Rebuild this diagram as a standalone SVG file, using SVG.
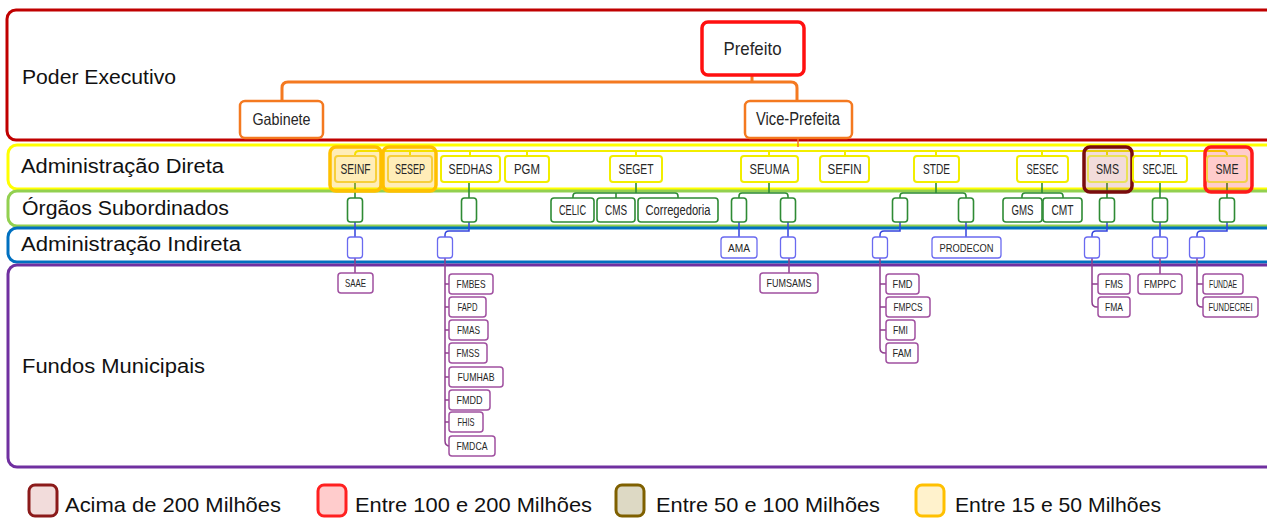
<svg xmlns="http://www.w3.org/2000/svg" width="1267" height="519" viewBox="0 0 1267 519">
<style>
text{font-family:"Liberation Sans",Arial,sans-serif}
.lbl{font-size:20px;fill:#111}
.leg{font-size:21px;fill:#111}
.t{text-anchor:middle;fill:#262626}
.ty{font-size:15px}
.tg{font-size:14px}
.tb{font-size:11px}
.tp{font-size:11.5px}
.band{fill:#fff;stroke-width:3}
.yn{fill:#fff;stroke:#F2EE00;stroke-width:2}
.gn{fill:#fff;stroke:#2E8B34;stroke-width:1.6}
.bn{fill:#fff;stroke:#6A6AF0;stroke-width:1.3}
.pn{fill:#fff;stroke:#A050A0;stroke-width:1.5}
.top{fill:#fff;stroke:#F47920;stroke-width:2.5}
.c{fill:none}
.co{stroke:#F47920;stroke-width:3}
.cy{stroke:#F2EE00;stroke-width:2}
.cg{stroke:#2E8B34;stroke-width:1.6}
.cb{stroke:#3344DD;stroke-width:1.5}
.cp{stroke:#8E3E8E;stroke-width:1.5}
</style>
<rect width="1267" height="519" fill="#fff"/>
<g id="bands">
<rect class="band" x="7" y="10" width="1280" height="130" rx="9" stroke="#C00000"/>
<rect class="band" x="8" y="145" width="1280" height="44" rx="9" stroke="#FFFF00"/>
<rect class="band" x="8" y="191" width="1280" height="35" rx="9" stroke="#92D050"/>
<rect class="band" x="8" y="228" width="1280" height="34" rx="9" stroke="#0070C0"/>
<rect class="band" x="8" y="265" width="1280" height="202" rx="9" stroke="#7030A0"/>
<text class="lbl" x="22" y="84" font-size="22" textLength="154" lengthAdjust="spacingAndGlyphs">Poder Executivo</text>
<text class="lbl" x="21" y="173" textLength="203" lengthAdjust="spacingAndGlyphs">Administração Direta</text>
<text class="lbl" x="22" y="215" textLength="207" lengthAdjust="spacingAndGlyphs">Órgãos Subordinados</text>
<text class="lbl" x="21" y="251" textLength="220" lengthAdjust="spacingAndGlyphs">Administração Indireta</text>
<text class="lbl" x="22" y="373" textLength="183" lengthAdjust="spacingAndGlyphs">Fundos Municipais</text>
</g>
<g id="connectors" class="c">
<path class="co" d="M752,75 V82 M282,101 V88 Q282,82 288,82 H791 Q797,82 797,88 V101"/>
<path d="M798,138 V147" stroke="#F47920" stroke-width="1.5"/>
<path class="cy" d="M355,156 V155 Q355,151 359,151 H1223 Q1227,151 1227,155 V156 M410,151 V156 M470,151 V156 M527,151 V156 M636,151 V156 M769,151 V156 M845,151 V156 M936,151 V156 M1042,151 V156 M1107,151 V156 M1160,151 V156"/>
<path class="cg" d="M355,182 V198 M469,182 V198 M636,182 V193 M573,198 V196 Q573,193 576,193 H675 Q678,193 678,196 V198 M616,193 V198 M769,182 V193 M739,198 V196 Q739,193 742,193 H785 Q788,193 788,196 V198 M936,182 V193 M900,198 V196 Q900,193 903,193 H963 Q966,193 966,196 V198 M1042,182 V193 M1022,198 V196 Q1022,193 1025,193 H1060 Q1063,193 1063,196 V198 M1107,182 V198 M1160,182 V198 M1227,182 V198"/>
<path class="cb" d="M355,222 V237 M469,222 V231 H449 Q445,231 445,235 V237 M739,222 V237 M788,222 V237 M900,222 V231 H884 Q880,231 880,235 V237 M966,222 V237 M1107,222 V231 H1096 Q1092,231 1092,235 V237 M1160,222 V237 M1227,222 V231 H1201 Q1197,231 1197,235 V237"/>
<path class="cp" d="M355,258 V273 M445,258 V441 Q445,446 450,446 M445,284 H449 M445,307 H449 M445,330 H449 M445,353 H449 M445,377 H449 M445,400 H449 M445,422 H449 M789,258 V273 M880,258 V348 Q880,353 885,353 H886 M880,284 H886 M880,307 H886 M880,330 H886 M1092,258 V302 Q1092,307 1097,307 H1098 M1092,284 H1098 M1160,258 V274 M1197,258 V302 Q1197,307 1202,307 H1203 M1197,284 H1203"/>
</g>
<g id="prefeito"><rect x="702" y="22" width="102" height="53" rx="6" fill="#fff" stroke="#FF1010" stroke-width="3.5"/><text class="t" x="752.5" y="55" font-size="18.5" textLength="58" lengthAdjust="spacingAndGlyphs">Prefeito</text></g>
<g id="gabinete"><rect class="top" x="240" y="101" width="83" height="37" rx="5"/><text class="t" x="281.5" y="125" font-size="16.5" textLength="58" lengthAdjust="spacingAndGlyphs">Gabinete</text></g>
<g id="vice-prefeita"><rect class="top" x="745" y="101" width="107" height="37" rx="5"/><text class="t" x="798" y="125" font-size="17.5" textLength="84" lengthAdjust="spacingAndGlyphs">Vice-Prefeita</text></g>
<g id="seinf"><rect x="330" y="147" width="51" height="44" rx="6" fill="#FFC000" fill-opacity="0.28" stroke="#FFC000" stroke-width="3.5"/><rect x="335" y="156" width="41" height="26" rx="3" fill="none" stroke="#F7CF3B" stroke-width="2"/><text class="t ty" x="355.5" y="174" textLength="30" lengthAdjust="spacingAndGlyphs">SEINF</text></g>
<g id="sesep"><rect x="383" y="147" width="53" height="44" rx="6" fill="#FFC000" fill-opacity="0.28" stroke="#FFC000" stroke-width="3.5"/><rect x="388" y="156" width="44" height="26" rx="3" fill="none" stroke="#F7CF3B" stroke-width="2"/><text class="t ty" x="410" y="174" textLength="30" lengthAdjust="spacingAndGlyphs">SESEP</text></g>
<g id="sedhas"><rect class="yn" x="441" y="156" width="59" height="26" rx="3"/><text class="t ty" x="470.5" y="174" textLength="44" lengthAdjust="spacingAndGlyphs">SEDHAS</text></g>
<g id="pgm"><rect class="yn" x="505" y="156" width="44" height="26" rx="3"/><text class="t ty" x="527" y="174" textLength="26" lengthAdjust="spacingAndGlyphs">PGM</text></g>
<g id="seget"><rect class="yn" x="610" y="156" width="52" height="26" rx="3"/><text class="t ty" x="636" y="174" textLength="35" lengthAdjust="spacingAndGlyphs">SEGET</text></g>
<g id="seuma"><rect class="yn" x="741" y="156" width="57" height="26" rx="3"/><text class="t ty" x="769.5" y="174" textLength="40" lengthAdjust="spacingAndGlyphs">SEUMA</text></g>
<g id="sefin"><rect class="yn" x="820" y="156" width="49" height="26" rx="3"/><text class="t ty" x="844.5" y="174" textLength="34" lengthAdjust="spacingAndGlyphs">SEFIN</text></g>
<g id="stde"><rect class="yn" x="914" y="156" width="45" height="26" rx="3"/><text class="t ty" x="936.5" y="174" textLength="27" lengthAdjust="spacingAndGlyphs">STDE</text></g>
<g id="sesec"><rect class="yn" x="1017" y="156" width="51" height="26" rx="3"/><text class="t ty" x="1042.5" y="174" textLength="32" lengthAdjust="spacingAndGlyphs">SESEC</text></g>
<g id="sms"><rect x="1084" y="147" width="48" height="45" rx="6" fill="#C0504D" fill-opacity="0.2" stroke="#7A0C0C" stroke-width="3.5"/><rect x="1088" y="156" width="39" height="26" rx="3" fill="none" stroke="#EAE15A" stroke-width="2"/><text class="t ty" x="1107.5" y="174" textLength="23" lengthAdjust="spacingAndGlyphs">SMS</text></g>
<g id="secjel"><rect class="yn" x="1133" y="156" width="54" height="26" rx="3"/><text class="t ty" x="1160" y="174" textLength="35" lengthAdjust="spacingAndGlyphs">SECJEL</text></g>
<g id="sme"><rect x="1205" y="147" width="47" height="45" rx="6" fill="#FF0000" fill-opacity="0.2" stroke="#FF1A1A" stroke-width="3.5"/><rect x="1207" y="156" width="40" height="26" rx="3" fill="none" stroke="#F2D04A" stroke-width="2"/><text class="t ty" x="1227" y="174" textLength="23" lengthAdjust="spacingAndGlyphs">SME</text></g>
<g id="os-seinf"><rect class="gn" x="347.5" y="198" width="15" height="24" rx="3"/></g>
<g id="os-sedhas"><rect class="gn" x="461.5" y="198" width="15" height="24" rx="3"/></g>
<g id="celic"><rect class="gn" x="551" y="198" width="43" height="24" rx="3"/><text class="t tg" x="572.5" y="215" textLength="27" lengthAdjust="spacingAndGlyphs">CELIC</text></g>
<g id="cms"><rect class="gn" x="597" y="198" width="38" height="24" rx="3"/><text class="t tg" x="616" y="215" textLength="22" lengthAdjust="spacingAndGlyphs">CMS</text></g>
<g id="corregedoria"><rect class="gn" x="638" y="198" width="80" height="24" rx="3"/><text class="t tg" x="678" y="215" textLength="65" lengthAdjust="spacingAndGlyphs">Corregedoria</text></g>
<g id="os-seuma-1"><rect class="gn" x="731.5" y="198" width="15" height="24" rx="3"/></g>
<g id="os-seuma-2"><rect class="gn" x="780.5" y="198" width="15" height="24" rx="3"/></g>
<g id="os-stde-1"><rect class="gn" x="892.5" y="198" width="15" height="24" rx="3"/></g>
<g id="os-stde-2"><rect class="gn" x="958.5" y="198" width="15" height="24" rx="3"/></g>
<g id="gms"><rect class="gn" x="1003" y="198" width="39" height="24" rx="3"/><text class="t tg" x="1022.5" y="215" textLength="22" lengthAdjust="spacingAndGlyphs">GMS</text></g>
<g id="cmt"><rect class="gn" x="1043" y="198" width="39" height="24" rx="3"/><text class="t tg" x="1062.5" y="215" textLength="22" lengthAdjust="spacingAndGlyphs">CMT</text></g>
<g id="os-sms"><rect class="gn" x="1099.5" y="198" width="15" height="24" rx="3"/></g>
<g id="os-secjel"><rect class="gn" x="1152.5" y="198" width="15" height="24" rx="3"/></g>
<g id="os-sme"><rect class="gn" x="1219.5" y="198" width="15" height="24" rx="3"/></g>
<g id="ai-seinf"><rect class="bn" x="347.5" y="237" width="15" height="21" rx="3"/></g>
<g id="ai-sedhas"><rect class="bn" x="437.5" y="237" width="15" height="21" rx="3"/></g>
<g id="ama"><rect class="bn" x="721" y="237" width="36" height="21" rx="3"/><text class="t tb" x="739" y="252" textLength="22" lengthAdjust="spacingAndGlyphs">AMA</text></g>
<g id="ai-seuma"><rect class="bn" x="780.5" y="237" width="15" height="21" rx="3"/></g>
<g id="ai-stde"><rect class="bn" x="872.5" y="237" width="15" height="21" rx="3"/></g>
<g id="prodecon"><rect class="bn" x="932" y="237" width="69" height="21" rx="3"/><text class="t tb" x="966.5" y="252" textLength="54" lengthAdjust="spacingAndGlyphs">PRODECON</text></g>
<g id="ai-sms"><rect class="bn" x="1084.5" y="237" width="15" height="21" rx="3"/></g>
<g id="ai-secjel"><rect class="bn" x="1152.5" y="237" width="15" height="21" rx="3"/></g>
<g id="ai-sme"><rect class="bn" x="1189.5" y="237" width="15" height="21" rx="3"/></g>
<g id="saae"><rect class="pn" x="338" y="273" width="35" height="20" rx="3"/><text class="t tp" x="355.5" y="287" textLength="21" lengthAdjust="spacingAndGlyphs">SAAE</text></g>
<g id="fmbes"><rect class="pn" x="449" y="274" width="44" height="20" rx="3"/><text class="t tp" x="471" y="288" textLength="29" lengthAdjust="spacingAndGlyphs">FMBES</text></g>
<g id="fapd"><rect class="pn" x="449" y="297" width="37" height="20" rx="3"/><text class="t tp" x="467.5" y="311" textLength="20" lengthAdjust="spacingAndGlyphs">FAPD</text></g>
<g id="fmas"><rect class="pn" x="449" y="320" width="39" height="20" rx="3"/><text class="t tp" x="468.5" y="334" textLength="23" lengthAdjust="spacingAndGlyphs">FMAS</text></g>
<g id="fmss"><rect class="pn" x="449" y="343" width="38" height="20" rx="3"/><text class="t tp" x="468" y="357" textLength="23" lengthAdjust="spacingAndGlyphs">FMSS</text></g>
<g id="fumhab"><rect class="pn" x="449" y="367" width="54" height="20" rx="3"/><text class="t tp" x="476" y="381" textLength="37" lengthAdjust="spacingAndGlyphs">FUMHAB</text></g>
<g id="fmdd"><rect class="pn" x="449" y="390" width="41" height="20" rx="3"/><text class="t tp" x="469.5" y="404" textLength="26" lengthAdjust="spacingAndGlyphs">FMDD</text></g>
<g id="fhis"><rect class="pn" x="449" y="412" width="34" height="20" rx="3"/><text class="t tp" x="466" y="426" textLength="17" lengthAdjust="spacingAndGlyphs">FHIS</text></g>
<g id="fmdca"><rect class="pn" x="449" y="436" width="46" height="20" rx="3"/><text class="t tp" x="472" y="450" textLength="31" lengthAdjust="spacingAndGlyphs">FMDCA</text></g>
<g id="fumsams"><rect class="pn" x="760" y="273" width="58" height="20" rx="3"/><text class="t tp" x="789" y="287" textLength="45" lengthAdjust="spacingAndGlyphs">FUMSAMS</text></g>
<g id="fmd"><rect class="pn" x="886" y="274" width="33" height="20" rx="3"/><text class="t tp" x="902.5" y="288" textLength="20" lengthAdjust="spacingAndGlyphs">FMD</text></g>
<g id="fmpcs"><rect class="pn" x="886" y="297" width="44" height="20" rx="3"/><text class="t tp" x="908" y="311" textLength="29" lengthAdjust="spacingAndGlyphs">FMPCS</text></g>
<g id="fmi"><rect class="pn" x="886" y="320" width="29" height="20" rx="3"/><text class="t tp" x="900.5" y="334" textLength="15" lengthAdjust="spacingAndGlyphs">FMI</text></g>
<g id="fam"><rect class="pn" x="886" y="343" width="32" height="20" rx="3"/><text class="t tp" x="902" y="357" textLength="19" lengthAdjust="spacingAndGlyphs">FAM</text></g>
<g id="fms"><rect class="pn" x="1098" y="274" width="32" height="20" rx="3"/><text class="t tp" x="1114" y="288" textLength="18" lengthAdjust="spacingAndGlyphs">FMS</text></g>
<g id="fma"><rect class="pn" x="1098" y="297" width="32" height="20" rx="3"/><text class="t tp" x="1114" y="311" textLength="18" lengthAdjust="spacingAndGlyphs">FMA</text></g>
<g id="fmppc"><rect class="pn" x="1138" y="274" width="44" height="20" rx="3"/><text class="t tp" x="1160" y="288" textLength="32" lengthAdjust="spacingAndGlyphs">FMPPC</text></g>
<g id="fundae"><rect class="pn" x="1203" y="274" width="40" height="20" rx="3"/><text class="t tp" x="1223" y="288" textLength="28" lengthAdjust="spacingAndGlyphs">FUNDAE</text></g>
<g id="fundecrei"><rect class="pn" x="1203" y="297" width="55" height="20" rx="3"/><text class="t" x="1230.5" y="311" font-size="10" textLength="44" lengthAdjust="spacingAndGlyphs">FUNDECREI</text></g>
<g id="legend">
<rect x="29" y="485" width="28" height="31" rx="6" fill="#F2DCDB" stroke="#8B1A1A" stroke-width="3"/>
<text class="leg" x="65" y="512" textLength="216" lengthAdjust="spacingAndGlyphs">Acima de 200 Milhões</text>
<rect x="318" y="485" width="28" height="31" rx="6" fill="#FFCCCC" stroke="#FF2020" stroke-width="3"/>
<text class="leg" x="355" y="512" textLength="237" lengthAdjust="spacingAndGlyphs">Entre 100 e 200 Milhões</text>
<rect x="616" y="485" width="28" height="31" rx="6" fill="#DDD9C4" stroke="#7F6000" stroke-width="3"/>
<text class="leg" x="656" y="512" textLength="224" lengthAdjust="spacingAndGlyphs">Entre 50 e 100 Milhões</text>
<rect x="916" y="485" width="28" height="31" rx="6" fill="#FFF2CC" stroke="#FFC000" stroke-width="3"/>
<text class="leg" x="955" y="512" textLength="206" lengthAdjust="spacingAndGlyphs">Entre 15 e 50 Milhões</text>
</g>
</svg>
